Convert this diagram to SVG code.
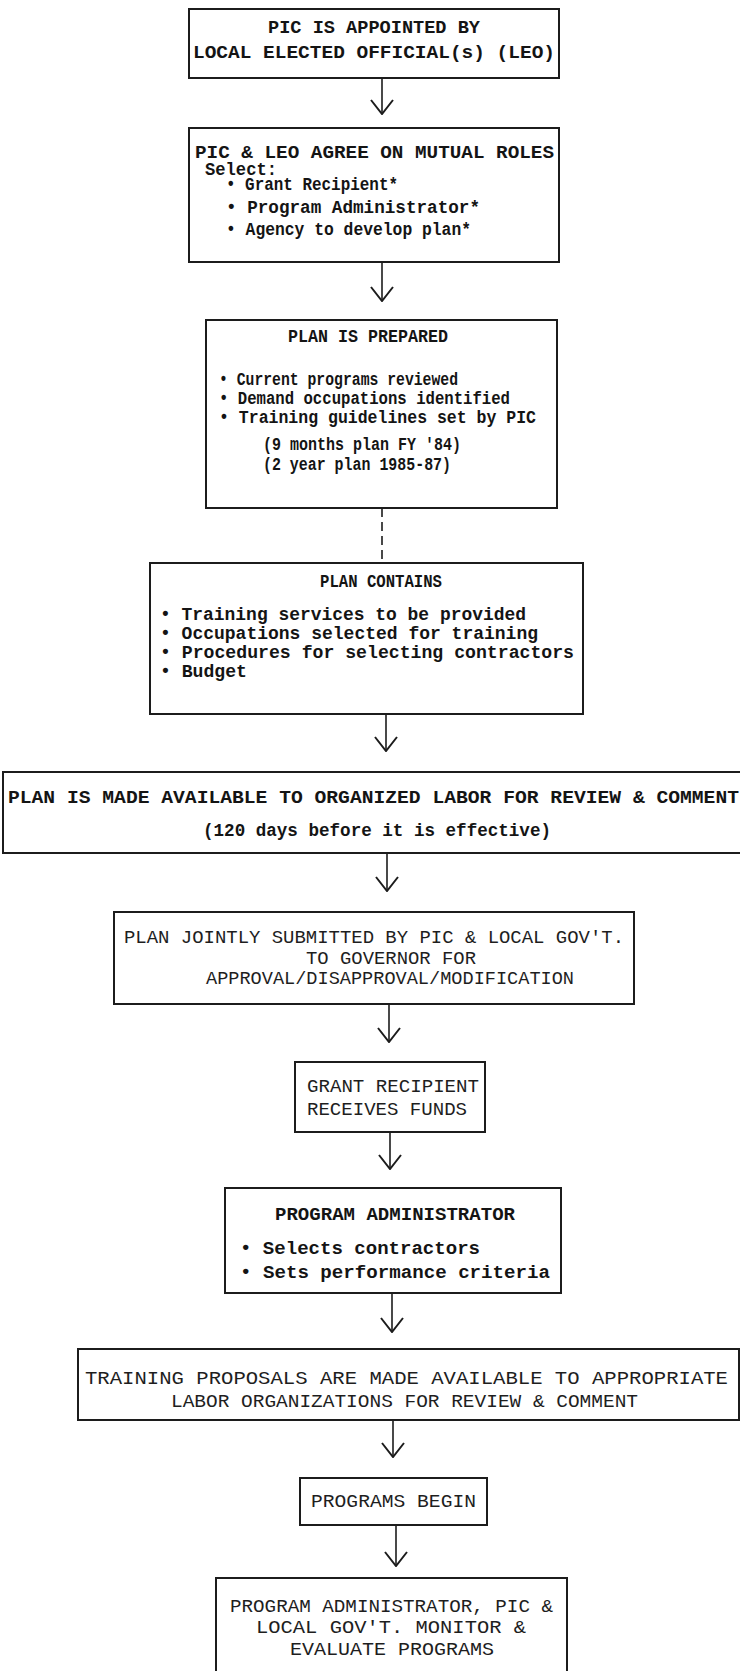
<svg xmlns="http://www.w3.org/2000/svg" width="740" height="1671" viewBox="0 0 740 1671">
<defs>
<style>
.box{fill:none;stroke:#1c1c1c;stroke-width:2}
.t{font-family:"Liberation Mono","Courier New",monospace;fill:#141414;font-weight:bold;font-size:18px}
.n{font-family:"Liberation Mono","Courier New",monospace;fill:#1e1e1e;font-weight:normal;font-size:18px}
.c{fill:none;stroke:#1c1c1c;stroke-width:1.6}
.d{fill:none;stroke:#1c1c1c;stroke-width:1.6;stroke-dasharray:9 5}
</style>
<marker id="ah" viewBox="0 0 16 24" markerWidth="16" markerHeight="24" refX="15" refY="12" orient="auto" markerUnits="userSpaceOnUse">
<path d="M1,1 L15,12 L1,23" fill="none" stroke="#1c1c1c" stroke-width="2"/>
</marker>
</defs>
<rect width="740" height="1671" fill="#fff"/>

<g id="connectors">
<line class="c" x1="382" y1="78" x2="382" y2="114" marker-end="url(#ah)" stroke-width="2.4"/>
<line class="c" x1="382" y1="262" x2="382" y2="301" marker-end="url(#ah)"/>
<line class="d" x1="382" y1="508" x2="382" y2="563"/>
<line class="c" x1="386" y1="714" x2="386" y2="751" marker-end="url(#ah)"/>
<line class="c" x1="387" y1="853" x2="387" y2="891" marker-end="url(#ah)"/>
<line class="c" x1="389" y1="1004" x2="389" y2="1042" marker-end="url(#ah)"/>
<line class="c" x1="390" y1="1132" x2="390" y2="1169" marker-end="url(#ah)"/>
<line class="c" x1="392" y1="1293" x2="392" y2="1332" marker-end="url(#ah)"/>
<line class="c" x1="393" y1="1420" x2="393" y2="1457" marker-end="url(#ah)"/>
<line class="c" x1="396" y1="1525" x2="396" y2="1566" marker-end="url(#ah)"/>
</g>

<g id="n1">
<rect class="box" x="189" y="9" width="370" height="69" stroke-width="2.4"/>
<text class="t" x="268" y="33" font-size="19" textLength="212" lengthAdjust="spacingAndGlyphs">PIC IS APPOINTED BY</text>
<text class="t" x="193" y="58" font-size="19" textLength="362" lengthAdjust="spacingAndGlyphs">LOCAL ELECTED OFFICIAL(s) (LEO)</text>
</g>

<g id="n2">
<rect class="box" x="189" y="128" width="370" height="134"/>
<text class="t" x="195" y="158" font-size="19" textLength="359" lengthAdjust="spacingAndGlyphs">PIC &amp; LEO AGREE ON MUTUAL ROLES</text>
<text class="t" x="205" y="175" font-size="17" textLength="72" lengthAdjust="spacingAndGlyphs">Select:</text>
<text class="t" x="226" y="190" font-size="17" textLength="172" lengthAdjust="spacingAndGlyphs">• Grant Recipient*</text>
<text class="t" x="226" y="213" font-size="17" textLength="254" lengthAdjust="spacingAndGlyphs">• Program Administrator*</text>
<text class="t" x="226" y="235" font-size="17" textLength="245" lengthAdjust="spacingAndGlyphs">• Agency to develop plan*</text>
</g>

<g id="n3">
<rect class="box" x="206" y="320" width="351" height="188"/>
<text class="t" x="288" y="342" font-size="17" textLength="160" lengthAdjust="spacingAndGlyphs">PLAN IS PREPARED</text>
<text class="t" x="219" y="385" font-size="17" textLength="239" lengthAdjust="spacingAndGlyphs">• Current programs reviewed</text>
<text class="t" x="219" y="404" font-size="17" textLength="291" lengthAdjust="spacingAndGlyphs">• Demand occupations identified</text>
<text class="t" x="219" y="423" font-size="17" textLength="317" lengthAdjust="spacingAndGlyphs">• Training guidelines set by PIC</text>
<text class="t" x="263" y="450" font-size="17" textLength="198" lengthAdjust="spacingAndGlyphs">(9 months plan FY '84)</text>
<text class="t" x="263" y="470" font-size="17" textLength="188" lengthAdjust="spacingAndGlyphs">(2 year plan 1985-87)</text>
</g>

<g id="n4">
<rect class="box" x="150" y="563" width="433" height="151"/>
<text class="t" x="320" y="587" font-size="17" textLength="122" lengthAdjust="spacingAndGlyphs">PLAN CONTAINS</text>
<text class="t" x="160" y="620" font-size="17" textLength="366" lengthAdjust="spacingAndGlyphs">• Training services to be provided</text>
<text class="t" x="160" y="639" font-size="17" textLength="378" lengthAdjust="spacingAndGlyphs">• Occupations selected for training</text>
<text class="t" x="160" y="658" font-size="17" textLength="414" lengthAdjust="spacingAndGlyphs">• Procedures for selecting contractors</text>
<text class="t" x="160" y="677" font-size="17" textLength="87" lengthAdjust="spacingAndGlyphs">• Budget</text>
</g>

<g id="n5">
<rect class="box" x="3" y="772" width="745" height="81" stroke-width="2.4"/>
<text class="t" x="8" y="803" font-size="19" textLength="731" lengthAdjust="spacingAndGlyphs">PLAN IS MADE AVAILABLE TO ORGANIZED LABOR FOR REVIEW &amp; COMMENT</text>
<text class="t" x="203" y="836" font-size="19" textLength="348" lengthAdjust="spacingAndGlyphs">(120 days before it is effective)</text>
</g>

<g id="n6">
<rect class="box" x="114" y="912" width="520" height="92"/>
<text class="n" x="124" y="943" textLength="500" lengthAdjust="spacingAndGlyphs">PLAN JOINTLY SUBMITTED BY PIC &amp; LOCAL GOV'T.</text>
<text class="n" x="306" y="964" textLength="170" lengthAdjust="spacingAndGlyphs">TO GOVERNOR FOR</text>
<text class="n" x="206" y="984" textLength="368" lengthAdjust="spacingAndGlyphs">APPROVAL/DISAPPROVAL/MODIFICATION</text>
</g>

<g id="n7">
<rect class="box" x="295" y="1062" width="190" height="70"/>
<text class="n" x="307" y="1092" textLength="172" lengthAdjust="spacingAndGlyphs">GRANT RECIPIENT</text>
<text class="n" x="307" y="1115" textLength="160" lengthAdjust="spacingAndGlyphs">RECEIVES FUNDS</text>
</g>

<g id="n8">
<rect class="box" x="225" y="1188" width="336" height="105"/>
<text class="t" x="275" y="1220" font-size="17" textLength="240" lengthAdjust="spacingAndGlyphs">PROGRAM ADMINISTRATOR</text>
<text class="t" x="240" y="1254" font-size="17" textLength="240" lengthAdjust="spacingAndGlyphs">• Selects contractors</text>
<text class="t" x="240" y="1278" font-size="17" textLength="310" lengthAdjust="spacingAndGlyphs">• Sets performance criteria</text>
</g>

<g id="n9">
<rect class="box" x="78" y="1349" width="661" height="71"/>
<text class="n" x="85" y="1384" textLength="643" lengthAdjust="spacingAndGlyphs">TRAINING PROPOSALS ARE MADE AVAILABLE TO APPROPRIATE</text>
<text class="n" x="171" y="1407" textLength="467" lengthAdjust="spacingAndGlyphs">LABOR ORGANIZATIONS FOR REVIEW &amp; COMMENT</text>
</g>

<g id="n10">
<rect class="box" x="300" y="1478" width="187" height="47"/>
<text class="n" x="311" y="1507" textLength="165" lengthAdjust="spacingAndGlyphs">PROGRAMS BEGIN</text>
</g>

<g id="n11">
<rect class="box" x="216" y="1578" width="351" height="120"/>
<text class="n" x="230" y="1612" font-size="17" textLength="323" lengthAdjust="spacingAndGlyphs">PROGRAM ADMINISTRATOR, PIC &amp;</text>
<text class="n" x="256" y="1633" font-size="17" textLength="270" lengthAdjust="spacingAndGlyphs">LOCAL GOV'T. MONITOR &amp;</text>
<text class="n" x="290" y="1655" font-size="17" textLength="204" lengthAdjust="spacingAndGlyphs">EVALUATE PROGRAMS</text>
</g>
</svg>
